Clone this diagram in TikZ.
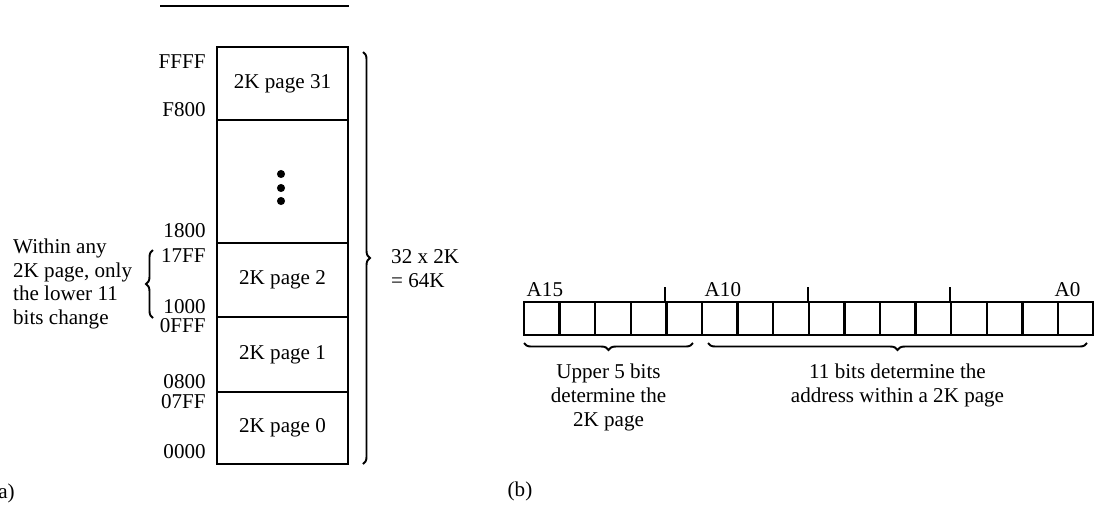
\documentclass[tikz,border=0pt]{standalone}
\usepackage{fontspec}
\setmainfont{Liberation Serif}
\usetikzlibrary{decorations.pathreplacing}

\begin{document}
\begin{tikzpicture}[x=0.02cm,y=-0.02cm,font=\fontsize{12}{13.6}\selectfont,
  page/.style={draw,line width=1.3pt,minimum width=2.62cm,inner sep=0pt},
  bitcell/.style={draw,line width=1.3pt,minimum width=0.712cm,minimum height=0.66cm,inner sep=0pt},
  addr/.style={anchor=east,inner sep=0pt},
  brc/.style={decorate,decoration={brace,amplitude=4pt},line width=1.1pt}]
\useasboundingbox (0,0) rectangle (1094,505);
\draw[line width=1pt] (160,6) -- (349,6);

% (a) memory map
\node[page,minimum height=1.46cm] (p31) at (282.5,83.5) {2K page 31};
\node[page,minimum height=2.46cm] (gap) at (282.5,181.5) {};
\node[page,minimum height=1.48cm] (p2) at (282.5,280) {2K page 2};
\node[page,minimum height=1.5cm] (p1) at (282.5,354.5) {2K page 1};
\node[page,minimum height=1.44cm] (p0) at (282.5,428) {2K page 0};
\foreach \y in {174,188,201}
  \fill (281,\y) circle (2.3pt);
\foreach \a/\y in {FFFF/62,F800/110,1800/231,17FF/256,1000/307,0FFF/326,0800/382,07FF/402,0000/452}
  \node[addr] (a\a) at (206,\y) {\a};

\draw[brc] (363,52) -- (363,464);
\node[anchor=west,align=left] (total) at (385,269) {32 x 2K\\= 64K};
\draw[brc] (153,318) -- (153,250);
\node[anchor=west,align=left] (note) at (7,284) {Within any\\2K page, only\\the lower 11\\bits change};
\node (capa) at (3,493) {(a)};

% (b) address bits
\foreach \i in {0,...,15}
  \node[bitcell] (cell\i) at ({524+35.6*(\i+0.5)},318.5) {};
\foreach \i in {4,8,12}
  \draw[line width=1.1pt] (cell\i.north west) -- ++(0,-14);
\node[anchor=south west,inner sep=2pt] (a15) at (cell0.north west) {A15};
\node[anchor=south west,inner sep=2pt] (a10) at (cell5.north west) {A10};
\node[anchor=south east,inner sep=2pt] (a0) at ([xshift=-6pt]cell15.north east) {A0};

\draw[brc] (693,343) -- (524,343) node[midway,below=8pt,align=center] (upper) {Upper 5 bits\\determine the\\2K page};
\draw[brc] (1087,343) -- (708,343) node[midway,below=8pt,align=center] (lower) {11 bits determine the\\address within a 2K page};
\node (capb) at (520,491) {(b)};
\end{tikzpicture}
\end{document}
